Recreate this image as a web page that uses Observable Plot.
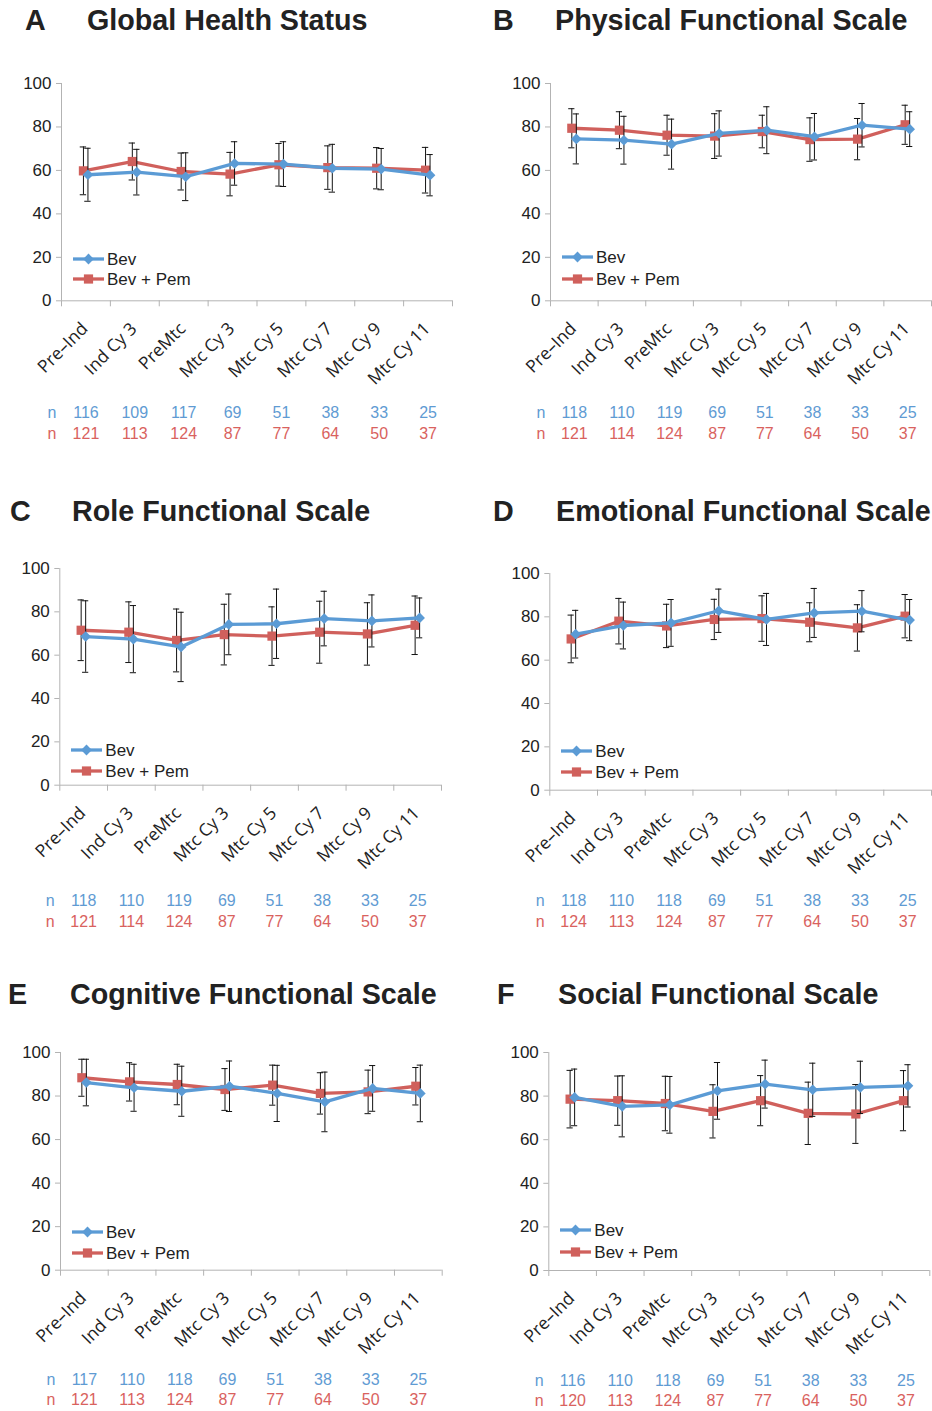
<!DOCTYPE html>
<html><head><meta charset="utf-8">
<script src="https://cdn.jsdelivr.net/npm/d3@7"></script>
<script src="https://cdn.jsdelivr.net/npm/@observablehq/plot@0.6"></script>
<style>
body{margin:0;background:#fff;}
#page{position:relative;width:932px;height:1411px;overflow:hidden;background:#fff;font-family:"Liberation Sans",Arial,Helvetica,sans-serif;color:#222;}
.hd{position:absolute;font-weight:bold;font-size:28.7px;line-height:1;white-space:nowrap;color:#222;}
.lg{position:absolute;height:18px;display:flex;align-items:center;white-space:nowrap;font-size:17px;line-height:1;color:#222;}
.lg svg{display:block;}
.lg span{margin-left:3px;}
svg.plot{position:absolute;}
</style></head><body><div id="page"></div>
<script>
// ---------- data ----------
const categories = ["Pre–Ind","Ind Cy 3","PreMtc","Mtc Cy 3","Mtc Cy 5","Mtc Cy 7","Mtc Cy 9","Mtc Cy 11"];
const letters = ["A","B","C","D","E","F"];
const titles = ["Global Health Status","Physical Functional Scale","Role Functional Scale","Emotional Functional Scale","Cognitive Functional Scale","Social Functional Scale"];
const seriesNames = ["Bev","Bev + Pem"];

const bevA = [58.0, 59.2, 57.1, 63.2, 62.9, 61.0, 60.6, 57.8];
const bevSdA = [12.2, 10.5, 11.0, 10.0, 10.3, 11.0, 9.5, 9.5];
const pemA = [59.8, 64.1, 59.5, 58.3, 62.6, 61.3, 61.0, 60.1];
const pemSdA = [11.0, 8.5, 8.5, 10.0, 9.8, 10.0, 9.5, 10.5];
const nBevA = [116, 109, 117, 69, 51, 38, 33, 25];
const nPemA = [121, 113, 124, 87, 77, 64, 50, 37];

const bevB = [74.5, 73.9, 72.1, 77.0, 78.5, 75.5, 80.8, 79.0];
const bevSdB = [11.5, 11.0, 11.5, 10.4, 10.8, 10.7, 10.0, 8.0];
const pemB = [79.4, 78.5, 76.2, 75.8, 77.9, 74.2, 74.4, 81.0];
const pemSdB = [9.0, 8.5, 9.2, 10.3, 7.5, 10.0, 9.5, 9.0];
const nBevB = [118, 110, 119, 69, 51, 38, 33, 25];
const nPemB = [121, 114, 124, 87, 77, 64, 50, 37];

const bevC = [68.6, 67.4, 63.8, 74.2, 74.5, 76.9, 75.8, 77.2];
const bevSdC = [16.5, 15.5, 16.0, 14.0, 16.0, 12.6, 12.0, 9.2];
const pemC = [71.5, 70.6, 66.8, 69.5, 68.8, 70.6, 69.8, 73.8];
const pemSdC = [14.0, 14.0, 14.5, 14.0, 13.5, 14.3, 14.4, 13.5];
const nBevC = [118, 110, 119, 69, 51, 38, 33, 25];
const nPemC = [121, 114, 124, 87, 77, 64, 50, 37];

const bevD = [72.0, 76.0, 77.2, 82.8, 78.8, 81.8, 82.6, 78.5];
const bevSdD = [11.0, 10.8, 10.8, 10.0, 12.0, 11.3, 9.5, 9.5];
const pemD = [69.8, 78.0, 75.8, 78.8, 79.2, 77.5, 74.9, 80.3];
const pemSdD = [11.0, 10.5, 10.0, 9.3, 10.5, 9.0, 10.7, 10.0];
const nBevD = [118, 110, 118, 69, 51, 38, 33, 25];
const nPemD = [124, 113, 124, 87, 77, 64, 50, 37];

const bevE = [86.2, 83.8, 82.2, 84.5, 81.2, 77.3, 83.5, 81.2];
const bevSdE = [10.7, 10.8, 11.5, 11.6, 12.9, 13.7, 10.5, 13.0];
const pemE = [88.4, 86.5, 85.3, 83.0, 85.0, 81.2, 81.9, 84.5];
const pemSdE = [8.5, 8.8, 9.3, 9.6, 9.2, 9.5, 10.0, 8.6];
const nBevE = [117, 110, 118, 69, 51, 38, 33, 25];
const nPemE = [121, 113, 124, 87, 77, 64, 50, 37];

const bevF = [79.4, 75.3, 76.0, 82.4, 85.5, 82.9, 84.0, 84.7];
const bevSdF = [13.0, 14.0, 13.0, 13.0, 11.0, 12.2, 12.0, 9.7];
const pemF = [78.6, 77.9, 76.6, 73.0, 77.9, 72.1, 71.8, 77.9];
const pemSdF = [13.2, 11.3, 12.5, 12.2, 11.5, 14.3, 13.5, 13.8];
const nBevF = [116, 110, 118, 69, 51, 38, 33, 25];
const nPemF = [120, 113, 124, 87, 77, 64, 50, 37];

const yTicks = [0, 20, 40, 60, 80, 100];

const panels = [
  {bev: bevA, bevSd: bevSdA, pem: pemA, pemSd: pemSdA, nBev: nBevA, nPem: nPemA},
  {bev: bevB, bevSd: bevSdB, pem: pemB, pemSd: pemSdB, nBev: nBevB, nPem: nPemB},
  {bev: bevC, bevSd: bevSdC, pem: pemC, pemSd: pemSdC, nBev: nBevC, nPem: nPemC},
  {bev: bevD, bevSd: bevSdD, pem: pemD, pemSd: pemSdD, nBev: nBevD, nPem: nPemD},
  {bev: bevE, bevSd: bevSdE, pem: pemE, pemSd: pemSdE, nBev: nBevE, nPem: nPemE},
  {bev: bevF, bevSd: bevSdF, pem: pemF, pemSd: pemSdF, nBev: nBevF, nPem: nPemF}
];

// ---------- layout / style ----------
const BLUE = "#5b9bd5", RED = "#d0605c";
const BLUE_T = "#5f9bd3", RED_T = "#d9625e";
const AXIS = "#b3b3b3";
const layout = [
  {left: 0,   frameL: 61,    frameR: 452,   y100: 82.7,   y0: 300,  letterX: 25,  titleX: 87,  base: 30.7,  leg: [41, 21], nDy: [117, 138]},
  {left: 466, frameL: 550,   frameR: 931,   y100: 82.7,   y0: 300,  letterX: 493, titleX: 555, base: 30.7,  leg: [43, 21], nDy: [117, 138]},
  {left: 0,   frameL: 59.3,  frameR: 441,   y100: 568.3,  y0: 785,  letterX: 10,  titleX: 72,  base: 521,   leg: [35, 14], nDy: [121, 142]},
  {left: 466, frameL: 549.3, frameR: 931,   y100: 573.3,  y0: 790,  letterX: 493, titleX: 556, base: 521,   leg: [39, 18], nDy: [116, 137]},
  {left: 0,   frameL: 60,    frameR: 441.7, y100: 1052.3, y0: 1270, letterX: 8,   titleX: 70,  base: 1004,  leg: [38, 17], nDy: [115, 135]},
  {left: 466, frameL: 548.3, frameR: 929.3, y100: 1052,   y0: 1270, letterX: 497, titleX: 558, base: 1004,  leg: [40, 18], nDy: [115, 135]}
];

const page = document.getElementById("page");

panels.forEach((p, i) => {
  const L = layout[i];
  const mt = 20, mb = 150, W = 466;
  const rows = categories.map((c, j) => ({
    x: j + 0.5, cat: c,
    bev: p.bev[j], bsd: p.bevSd[j], pem: p.pem[j], psd: p.pemSd[j],
    nb: p.nBev[j], np: p.nPem[j]
  }));
  const capW = 0.065;
  const dxB = 2, dxP = -2.5;
  const errMarks = (key, sd, dx) => [
    Plot.ruleX(rows, {x: "x", y1: d => d[key] - d[sd], y2: d => d[key] + d[sd], stroke: "#111", strokeWidth: 1, dx}),
    Plot.ruleY(rows, {y: d => d[key] + d[sd], x1: d => d.x - capW, x2: d => d.x + capW, stroke: "#111", strokeWidth: 1, dx}),
    Plot.ruleY(rows, {y: d => d[key] - d[sd], x1: d => d.x - capW, x2: d => d.x + capW, stroke: "#111", strokeWidth: 1, dx})
  ];
  const chart = Plot.plot({
    width: W,
    height: mt + (L.y0 - L.y100) + mb,
    marginLeft: L.frameL - L.left,
    marginRight: L.left + W - L.frameR,
    marginTop: mt,
    marginBottom: mb,
    x: {domain: [0, 8]},
    y: {domain: [0, 100]},
    style: {fontFamily: "'Liberation Sans', Arial, Helvetica, sans-serif", fontSize: "17px", color: "#222", background: "transparent", overflow: "visible"},
    marks: [
      Plot.ruleY([0], {stroke: AXIS}),
      Plot.ruleX([0], {y1: 0, y2: 100, stroke: AXIS}),
      Plot.axisY({ticks: yTicks, tickSize: 5, tickPadding: 5, stroke: AXIS, fill: "#222", label: null}),
      Plot.axisX({ticks: d3.range(0, 9), tickSize: 6, tickFormat: () => "", stroke: AXIS, label: null}),
      Plot.text(rows, {x: "x", frameAnchor: "bottom", text: "cat", rotate: -45, textAnchor: "end", dx: 3, dy: 29, fontFamily: "'Open Sans', sans-serif", fontSize: 17.5, fill: "#222"}),
      Plot.text(["n"], {frameAnchor: "bottom-left", text: d => d, dx: -14, dy: L.nDy[0], fill: BLUE_T, fontSize: 16}),
      Plot.text(["n"], {frameAnchor: "bottom-left", text: d => d, dx: -14, dy: L.nDy[1], fill: RED_T, fontSize: 16}),
      Plot.text(rows, {x: "x", frameAnchor: "bottom", text: "nb", dy: L.nDy[0], fill: BLUE_T, fontSize: 16}),
      Plot.text(rows, {x: "x", frameAnchor: "bottom", text: "np", dy: L.nDy[1], fill: RED_T, fontSize: 16}),
      Plot.line(rows, {x: "x", y: "pem", stroke: RED, strokeWidth: 3.3, dx: dxP}),
      ...errMarks("pem", "psd", dxP),
      Plot.dot(rows, {x: "x", y: "pem", symbol: "square", r: 5.2, fill: RED, dx: dxP}),
      Plot.line(rows, {x: "x", y: "bev", stroke: BLUE, strokeWidth: 3.3, dx: dxB}),
      ...errMarks("bev", "bsd", dxB),
      Plot.dot(rows, {x: "x", y: "bev", symbol: "diamond2", r: 4.8, fill: BLUE, dx: dxB})
    ]
  });
  chart.classList.add("plot");
  chart.style.left = L.left + "px";
  chart.style.top = (L.y100 - mt) + "px";
  page.appendChild(chart);

  // titles
  const lt = document.createElement("div");
  lt.className = "hd"; lt.textContent = letters[i];
  lt.style.left = L.letterX + "px"; lt.style.top = (L.base - 24.3) + "px";
  page.appendChild(lt);
  const tt = document.createElement("div");
  tt.className = "hd"; tt.textContent = titles[i];
  tt.style.left = L.titleX + "px"; tt.style.top = (L.base - 24.3) + "px";
  page.appendChild(tt);

  // legend
  const swatches = [
    `<svg width="31" height="12"><line x1="0" x2="31" y1="6" y2="6" stroke="${BLUE}" stroke-width="3.3"/><path d="M15.5,0.6L20.9,6L15.5,11.4L10.1,6Z" fill="${BLUE}"/></svg>`,
    `<svg width="31" height="12"><line x1="0" x2="31" y1="6" y2="6" stroke="${RED}" stroke-width="3.3"/><rect x="10.9" y="1.4" width="9.2" height="9.2" fill="${RED}"/></svg>`
  ];
  seriesNames.forEach((name, k) => {
    const row = document.createElement("div");
    row.className = "lg";
    row.style.left = (L.frameL + 12) + "px";
    row.style.top = (L.y0 - L.leg[k] - 9) + "px";
    row.innerHTML = swatches[k] + `<span>${name}</span>`;
    page.appendChild(row);
  });
});
</script>
</body></html>
